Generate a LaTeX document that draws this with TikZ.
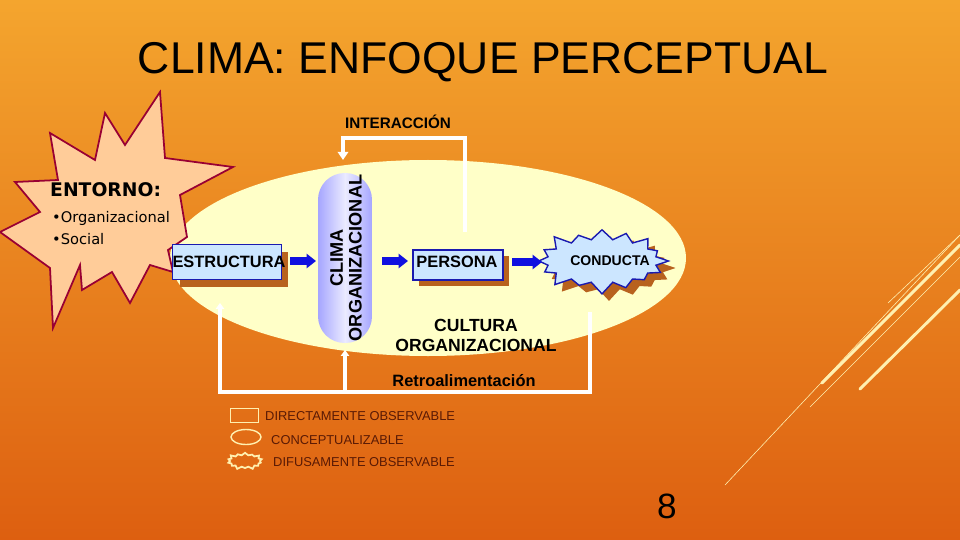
\documentclass[tikz,border=0pt]{standalone}
\usepackage{fontspec}
\setmainfont{Liberation Sans}
\newfontfamily\dejavu{DejaVu Sans}
\usetikzlibrary{shapes.symbols,shapes.geometric,arrows.meta,shadows}
\definecolor{bgtop}{HTML}{F4A52E}
\definecolor{bgbot}{HTML}{DD5F10}
\definecolor{ellfill}{HTML}{FFFFC8}
\definecolor{boxfill}{HTML}{CCE6FF}
\definecolor{boxline}{HTML}{1A1AB0}
\definecolor{shad}{HTML}{B8621E}
\definecolor{starfill}{HTML}{FFCC99}
\definecolor{starline}{HTML}{990033}
\definecolor{legtxt}{HTML}{5A1A05}
\definecolor{legline}{HTML}{FFF0B0}
\definecolor{arrblue}{HTML}{1010E0}
\tikzset{
  boxnode/.style={draw=boxline,line width=1.2pt,fill=boxfill,inner sep=0pt,font=\bfseries\fontsize{14}{16}\selectfont},
  whiteline/.style={draw=white,line width=2.6pt},
  blockarrow/.style={-{Triangle[length=8pt,width=12pt]},line width=6pt,draw=arrblue},
  legtext/.style={anchor=west,text=legtxt,font=\fontsize{11}{12}\selectfont,inner sep=0pt},
  deco/.style={draw=legline,line cap=round},
}
\begin{document}
\begin{tikzpicture}[x=0.03cm,y=-0.03cm]
\useasboundingbox (0,0) rectangle (960,540);
\shade[top color=bgtop,bottom color=bgbot] (0,0) rectangle (960,540);
% decorative lines
\draw[deco,line width=0.5pt] (725,485) -- (960,235);
\draw[deco,line width=2.5pt] (822,383) -- (960,245);
\draw[deco,line width=2.5pt] (860,389) -- (960,290);
\draw[deco,line width=0.5pt] (888,303) -- (960,235);
\draw[deco,line width=0.5pt] (810,407) -- (960,257);
% title
\node (title) at (483,62) {\fontsize{38}{42}\selectfont CLIMA: ENFOQUE PERCEPTUAL};
% ellipse
\fill[ellfill] (428,258) ellipse [x radius=258, y radius=98];
% entorno star
\draw[starline,fill=starfill,line width=1.5pt]
 (50,133) -- (95,160) -- (105,113) -- (125,145) -- (160,92) -- (165,158) -- (233,167) -- (180,195)
 -- (187,237) -- (168,250) -- (173,272) -- (150,265) -- (130,303) -- (112,272) -- (82,290) -- (80,265)
 -- (53,328) -- (50,268) -- (0,232) -- (40,212) -- (15,182) -- (58,180) -- cycle;
\node[anchor=west,inner sep=0pt] (entorno) at (50,190) {\dejavu\bfseries\fontsize{16}{18}\selectfont ENTORNO:};
\node[anchor=west,inner sep=0pt] (org) at (52,218) {\dejavu\fontsize{12.5}{14}\selectfont •Organizacional};
\node[anchor=west,inner sep=0pt] (soc) at (52,239) {\dejavu\fontsize{12.5}{14}\selectfont •Social};
% estructura
\fill[shad] (180,252) rectangle (288,287);
\node[boxnode,minimum width=3.27cm,minimum height=1.05cm] (estr) at (227,262) {};
\node[font=\bfseries\fontsize{14}{16}\selectfont,inner sep=0pt] (estrt) at (229,262) {ESTRUCTURA};
% clima pill
\shade[left color=blue!35!white,right color=blue!35!white,middle color=blue!8!white,rounded corners=0.8cm] (318,173) rectangle (372,343);
\node[rotate=90,align=center,font=\bfseries\fontsize{15.5}{16}\selectfont,inner sep=0pt] (clima) at (346,258) {CLIMA\\ORGANIZACIONAL};
% persona
\fill[shad] (419,256) rectangle (509,286);
\node[boxnode,minimum width=2.7cm,minimum height=0.9cm] (pers) at (458,265) {};
\node[font=\bfseries\fontsize{14}{16}\selectfont,inner sep=0pt] (perst) at (457,262) {PERSONA};
% conducta
\pgfmathsetseed{7}
\node[starburst,starburst points=16,starburst point height=0.4cm,fill=shad,minimum width=4.1cm,minimum height=2.1cm] (condsh) at (609,268) {};
\pgfmathsetseed{7}
\node[starburst,starburst points=16,starburst point height=0.4cm,draw=boxline,line width=1.2pt,fill=boxfill,minimum width=4.1cm,minimum height=2.1cm] (cond) at (602,261) {};
\node[font=\bfseries\fontsize{12}{14}\selectfont,inner sep=0pt] (condt) at (610,261) {CONDUCTA};
% block arrows
\coordinate (a1s) at (290,261); \coordinate (a1e) at (316,261);
\coordinate (a2s) at (382,261); \coordinate (a2e) at (408,261);
\coordinate (a3s) at (512,262); \coordinate (a3e) at (542,262);
\draw[blockarrow] (a1s) -- (a1e);
\draw[blockarrow] (a2s) -- (a2e);
\draw[blockarrow] (a3s) -- (a3e);
% labels
\node[font=\bfseries\fontsize{13}{14}\selectfont] (inter) at (398,122) {INTERACCIÓN};
\node[align=center,font=\bfseries\fontsize{15}{17}\selectfont] (cult) at (476,335) {CULTURA\\ORGANIZACIONAL};
\node[font=\bfseries\fontsize{14}{16}\selectfont] (retro) at (464,381) {Retroalimentación};
% white connectors
\coordinate (i1) at (465,232); \coordinate (i2) at (465,138); \coordinate (i3) at (343,138); \coordinate (i4) at (343,160);
\draw[whiteline,-{Triangle[length=7pt,width=9pt]}] (i1) -- (i2) -- (i3) -- (i4);
\coordinate (r1) at (590,312); \coordinate (r2) at (590,392); \coordinate (r3) at (220,392); \coordinate (r4) at (220,303);
\draw[whiteline,-{Triangle[length=5pt,width=7pt]}] (r1) -- (r2) -- (r3) -- (r4);
\coordinate (r5) at (345,392); \coordinate (r6) at (345,350);
\draw[whiteline,-{Triangle[length=5pt,width=7pt]}] (r5) -- (r6);
% legend
\node[draw=legline,line width=0.8pt,minimum width=0.84cm,minimum height=0.42cm,inner sep=0pt] (lg1) at (244,415) {};
\node[draw=legline,line width=1.2pt,ellipse,minimum width=0.9cm,minimum height=0.45cm,inner sep=0pt] (lg2) at (246,437) {};
\pgfmathsetseed{3}
\node[starburst,starburst points=14,starburst point height=0.1cm,draw=legline,line width=1.5pt,minimum width=1.1cm,minimum height=0.55cm,inner sep=0pt] (lg3) at (245,461) {};
\node[legtext] (lt1) at (265,416) {DIRECTAMENTE OBSERVABLE};
\node[legtext] (lt2) at (271,440) {CONCEPTUALIZABLE};
\node[legtext] (lt3) at (273,462) {DIFUSAMENTE OBSERVABLE};
\node (pg) at (667,506) {\fontsize{30}{32}\selectfont 8};
\end{tikzpicture}
\end{document}
